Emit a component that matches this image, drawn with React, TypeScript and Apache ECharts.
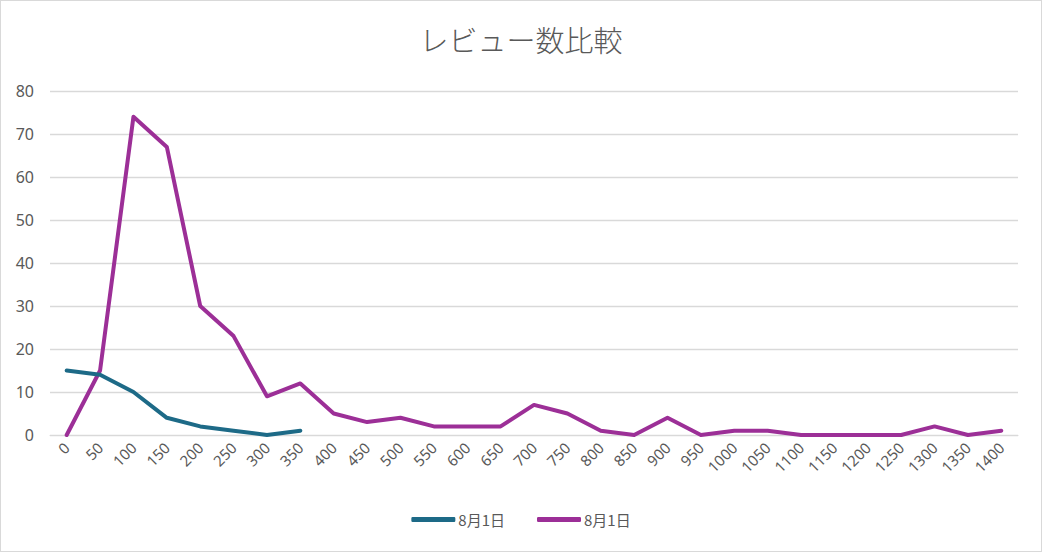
import React, { useEffect, useRef } from "react";
import * as echarts from "echarts";

const categories = ["0","50","100","150","200","250","300","350","400","450","500","550","600","650","700","750","800","850","900","950","1000","1050","1100","1150","1200","1250","1300","1350","1400"];
const seriesA = [15, 14, 10, 4, 2, 1, 0, 1];
const seriesB = [0, 15, 74, 67, 30, 23, 9, 12, 5, 3, 4, 2, 2, 2, 7, 5, 1, 0, 4, 0, 1, 1, 0, 0, 0, 0, 2, 0, 1];
const legendLabels = ["8月1日", "8月1日"];
const yTicks = { min: 0, max: 80, interval: 10 };

export default function App() {
  const ref = useRef<HTMLDivElement>(null);
  useEffect(() => {
    document.body.style.margin = "0";
    const chart = echarts.init(ref.current!, null, { renderer: "svg" });
    const font = "'Noto Sans', 'Noto Sans CJK JP', sans-serif";
    chart.setOption({
      animation: false,
      backgroundColor: "#ffffff",
      title: {
        text: "レビュー数比較",
        left: "center",
        top: 19,
        textStyle: { fontFamily: "'Noto Sans CJK JP', sans-serif", fontSize: 29, fontWeight: 300, color: "#595959" },
      },
      grid: { left: 50, right: 24, top: 91, bottom: 117, containLabel: false },
      legend: {
        bottom: 20,
        left: "center",
        icon: "roundRect",
        itemWidth: 44,
        itemHeight: 5,
        itemGap: 32,
        data: ["a", "b"],
        formatter: (name: string) => (name === "a" ? legendLabels[0] : legendLabels[1]),
        textStyle: { fontFamily: "'Noto Sans CJK JP', sans-serif", fontSize: 15, color: "#595959", padding: [0, 0, 0, -2] },
      },
      xAxis: {
        type: "category",
        data: categories,
        boundaryGap: true,
        axisLine: { show: true, lineStyle: { color: "#d9d9d9", width: 1 } },
        axisTick: { show: false },
        axisLabel: { rotate: 45, interval: 0, fontFamily: font, fontSize: 15, color: "#595959", margin: 10 },
      },
      yAxis: {
        type: "value",
        min: yTicks.min,
        max: yTicks.max,
        interval: yTicks.interval,
        axisLine: { show: false },
        axisTick: { show: false },
        splitLine: { lineStyle: { color: "#d9d9d9", width: 1.3 } },
        axisLabel: { fontFamily: font, fontSize: 16, color: "#595959", margin: 16 },
      },
      series: [
        {
          name: "a",
          type: "line",
          data: seriesA,
          symbol: "none",
          lineStyle: { color: "#1d6a87", width: 4, cap: "round", join: "round" },
          itemStyle: { color: "#1d6a87" },
          z: 3,
        },
        {
          name: "b",
          type: "line",
          data: seriesB,
          symbol: "none",
          lineStyle: { color: "#9c2f97", width: 4, cap: "round", join: "round" },
          itemStyle: { color: "#9c2f97" },
          z: 2,
        },
      ],
    });
    return () => chart.dispose();
  }, []);
  return (
    <div
      style={{
        width: 1042,
        height: 552,
        boxSizing: "border-box",
        border: "1.5px solid #d9d9d9",
        position: "relative",
        overflow: "hidden",
      }}
    >
      <div ref={ref} style={{ position: "absolute", left: -1.5, top: -1.5, width: 1042, height: 552 }} />
    </div>
  );
}
